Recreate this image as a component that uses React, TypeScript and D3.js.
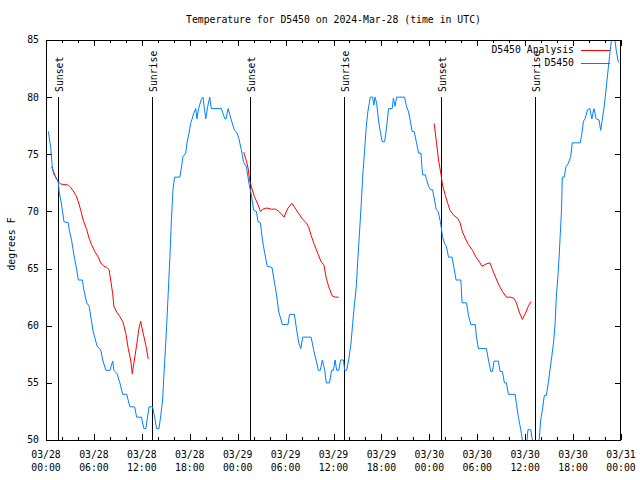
import React from "react";
import * as d3 from "d3";

// ---- data (hours since 2024-03-28 00:00 UTC, degrees F) ----
const obsHours = [0.3,0.4,0.6,0.8,1.0,1.25,1.4,1.55,1.65,1.85,2.05,2.25,2.8,2.9,3.2,3.4,3.6,3.85,4.05,4.55,4.75,5.1,5.4,5.7,5.9,6.1,6.4,6.85,7.1,7.5,8.0,8.35,8.5,8.9,9.25,9.6,10.1,10.5,11.1,11.35,11.95,12.25,12.5,12.9,13.35,13.6,13.85,14.15,14.4,14.6,14.75,14.9,15.1,15.3,15.5,15.7,15.9,16.1,16.75,16.95,17.15,17.5,17.65,17.9,18.1,18.3,18.5,18.75,18.9,19.1,19.45,19.65,19.8,20.0,20.25,20.5,20.7,21.95,22.4,22.55,22.8,23.0,23.2,23.6,23.9,24.15,24.45,24.75,25.1,25.4,25.7,26.0,26.35,26.55,26.85,27.1,27.4,27.7,28.3,28.55,28.85,29.15,29.6,30.3,30.5,31.1,31.35,31.65,31.9,32.15,33.2,33.5,33.85,34.1,34.35,34.6,34.9,35.1,35.5,35.75,36.0,36.2,36.4,36.65,36.9,37.25,37.4,37.65,37.9,38.2,38.4,38.6,38.85,39.05,39.25,39.45,39.65,39.9,40.1,40.3,40.6,40.9,41.05,41.2,41.4,41.65,41.9,42.1,42.4,42.6,42.9,43.35,43.5,43.7,43.9,44.9,45.1,45.4,45.6,45.85,46.1,46.4,46.65,46.95,47.15,47.5,47.65,47.9,48.15,48.4,48.6,48.85,49.1,49.35,49.45,49.65,49.9,50.15,50.4,50.85,51.1,51.35,51.95,52.1,52.65,52.9,53.2,53.75,53.9,54.15,55.15,55.4,55.7,55.9,56.1,56.65,56.85,57.15,57.4,57.65,57.9,58.75,58.9,59.15,59.45,59.65,59.85,60.1,60.35,60.7,60.9,61.1,61.6,61.75,61.95,62.15,62.4,62.65,62.9,63.1,63.35,63.55,63.75,63.9,64.1,64.25,64.4,64.55,64.65,64.9,65.1,65.4,65.7,65.9,66.9,67.1,67.3,67.5,67.8,68.1,68.35,68.6,68.9,69.25,69.45,69.65,69.9,70.15,70.4,70.7,70.9,71.15,71.4,71.65,71.8];
const obsTemps = [77.0,76.5,75.5,73.8,73.2,73.0,72.8,72.5,71.7,71.0,70.1,69.1,69.0,68.4,67.5,66.6,65.8,64.9,64.0,64.0,63.1,62.0,61.7,60.4,59.5,59.0,58.2,57.9,57.0,56.1,56.1,56.9,56.1,55.8,55.0,54.0,54.0,52.9,52.9,52.0,52.0,51.0,51.0,52.9,52.9,52.0,51.0,51.0,52.3,53.5,55.5,57.3,59.9,62.8,65.8,69.2,71.9,73.0,73.0,73.8,74.8,75.1,76.0,76.8,77.7,78.1,78.6,79.0,78.1,79.0,79.8,80.0,79.2,78.1,79.2,80.0,79.0,79.0,78.1,78.1,79.0,78.5,78.0,77.1,76.9,76.4,75.4,74.3,73.9,72.5,71.5,70.1,70.0,69.1,69.0,67.5,66.3,65.2,65.1,64.0,62.8,61.2,60.1,60.1,61.0,61.0,59.8,58.5,58.0,59.0,59.0,57.9,56.9,56.1,56.1,57.0,56.1,55.0,55.0,56.1,56.1,57.0,56.1,56.1,57.0,57.0,56.1,56.1,57.0,58.5,60.2,61.7,63.4,65.8,68.1,70.4,73.0,75.4,77.4,78.7,80.0,80.0,79.3,80.0,79.5,77.9,76.8,76.1,76.1,77.1,79.0,79.0,79.9,79.2,80.0,80.0,79.3,78.7,78.0,77.0,77.0,76.0,75.1,75.1,73.2,73.2,72.8,72.2,71.9,71.9,71.2,70.2,70.0,69.2,68.8,67.8,67.2,66.9,66.0,66.0,65.0,64.0,64.0,62.0,62.0,60.9,60.1,60.1,59.0,58.0,58.0,57.0,56.0,56.0,56.9,56.9,56.0,56.0,55.0,55.0,54.0,54.0,53.2,52.0,50.9,50.0,49.0,49.0,50.9,50.9,50.0,49.0,49.0,50.0,51.8,52.6,53.9,53.9,55.0,56.1,57.4,58.5,60.2,62.5,64.3,66.0,68.1,70.1,73.0,73.0,73.9,74.2,74.8,76.0,76.0,76.8,77.9,78.1,78.9,79.0,78.1,79.0,78.1,78.0,77.1,78.0,79.2,80.8,82.5,84.4,85.5,85.5,84.1,83.1,83.0];

const ana1Hours = [0.7,1.0,1.25,1.55,1.85,2.8,3.1,3.4,3.75,4.05,4.35,4.65,5.1,5.4,5.7,6.1,6.55,6.85,7.25,7.6,7.9,8.1,8.35,8.5,8.85,9.25,9.65,10.0,10.3,10.6,10.8,11.0,11.35,11.6,11.85,12.15,12.5,12.8];
const ana1Temps = [73.9,73.4,72.9,72.6,72.4,72.3,72.1,71.8,71.4,70.85,70.1,69.25,68.4,67.65,67.1,66.5,66.0,65.5,65.2,65.1,64.9,64.0,62.8,61.7,61.2,60.8,60.3,59.3,58.0,57.0,55.8,56.7,58.3,59.6,60.4,59.4,58.3,57.1];
const ana2Hours = [24.75,25.1,25.3,25.5,25.7,26.1,26.55,26.85,27.15,27.65,28.2,28.75,29.15,29.45,29.8,30.3,30.8,31.1,31.55,32.15,32.6,32.9,33.2,33.6,34.05,34.45,34.8,35.1,35.4,35.85,36.25,36.65];
const ana2Temps = [75.2,74.4,73.8,72.7,72.2,71.3,70.6,70.0,70.2,70.3,70.2,70.2,70.0,69.8,69.5,70.3,70.7,70.4,69.9,69.3,69.0,68.6,67.9,67.1,66.3,65.6,65.3,64.15,63.4,62.6,62.5,62.5];
const ana3Hours = [48.6,48.9,49.15,49.45,49.65,50.0,50.3,50.6,51.0,51.55,51.85,52.15,52.6,52.9,53.4,53.85,54.25,54.6,55.1,55.6,55.9,56.35,56.75,57.15,57.65,58.2,58.6,58.9,59.25,59.65,60.1,60.4,60.7];
const ana3Temps = [77.7,76.0,74.5,73.3,72.3,71.4,70.7,70.1,69.7,69.4,69.0,68.2,67.5,67.1,66.6,66.0,65.6,65.2,65.4,65.5,64.9,64.15,63.5,63.0,62.5,62.5,62.4,62.0,61.2,60.55,61.2,61.7,62.1];

const sunHours = [1.55, 13.3, 25.6, 37.3, 49.4, 61.2];
const sunLabels = ["Sunset", "Sunrise", "Sunset", "Sunrise", "Sunset", "Sunrise"];

const yTicks = [50, 55, 60, 65, 70, 75, 80, 85];
const titleText = "Temperature for D5450 on 2024-Mar-28 (time in UTC)";
const yLabel = "degrees F";
const seriesNames = ["D5450 Analysis", "D5450"];
const seriesColors = ["#ff0000", "#0080ff"];

const START = Date.UTC(2024, 2, 28, 0, 0);
const H = 3600 * 1000;

export default function App() {
  const W = 640, HT = 480;
  const left = 46, right = 621, top = 40, bottom = 440;
  const x = d3.scaleUtc().domain([new Date(START), new Date(START + 72 * H)]).range([left, right]);
  const y = d3.scaleLinear().domain([50, 85]).range([bottom, top]);
  const line = d3.line<[number, number]>().x(d => x(new Date(START + d[0] * H))).y(d => y(d[1]));

  const zip = (a: number[], b: number[]) => a.map((v, i) => [v, b[i]] as [number, number]);
  const obs = zip(obsHours, obsTemps);
  const anaSegs = [zip(ana1Hours, ana1Temps), zip(ana2Hours, ana2Temps), zip(ana3Hours, ana3Temps)];

  const majorX = x.ticks(d3.utcHour.every(6)!);
  const minorX = x.ticks(d3.utcHour.every(2)!);
  const fmtD = d3.utcFormat("%m/%d");
  const fmtT = d3.utcFormat("%H:%M");
  const font = "'DejaVu Sans Mono', 'Liberation Mono', monospace";
  const fs = 9.8;

  return (
    <svg width={W} height={HT} style={{ position: "absolute", left: 0, top: 0, background: "#fff" }}
      fontFamily={font} fontSize={fs}>
      <defs>
        <clipPath id="plotclip">
          <rect x={left} y={top} width={right - left} height={bottom - top} />
        </clipPath>
      </defs>
      <rect x={0} y={0} width={W} height={HT} fill="#fff" />
      <text x={(left + right) / 2} y={20} dy="0.35em" textAnchor="middle">{titleText}</text>

      {/* ticks */}
      <g stroke="#000" shapeRendering="crispEdges">
        {minorX.map((d, i) => {
          const xx = Math.round(x(d)) + 0.5;
          const major = majorX.some(m => +m === +d);
          const len = major ? 6 : 3;
          return (
            <g key={"mx" + i}>
              <line x1={xx} x2={xx} y1={bottom} y2={bottom - len} />
              <line x1={xx} x2={xx} y1={top} y2={top + len} />
            </g>
          );
        })}
        {yTicks.map((t, i) => {
          const yy = Math.round(y(t)) + 0.5;
          return (
            <g key={"yt" + i}>
              <line x1={left} x2={left + 6} y1={yy} y2={yy} />
              <line x1={right} x2={right - 6} y1={yy} y2={yy} />
            </g>
          );
        })}
      </g>

      {/* tick labels */}
      {yTicks.map((t, i) => (
        <text key={"yl" + i} x={39} y={y(t)} dy="0.35em" textAnchor="end">{t}</text>
      ))}
      {majorX.map((d, i) => (
        <g key={"xl" + i}>
          <text x={x(d)} y={455} dy="0.35em" textAnchor="middle">{fmtD(d)}</text>
          <text x={x(d)} y={467.5} dy="0.35em" textAnchor="middle">{fmtT(d)}</text>
        </g>
      ))}
      <text transform={`translate(12,${(top + bottom) / 2 + 4}) rotate(-90)`} dy="0.35em" textAnchor="middle">{yLabel}</text>

      {/* sun lines */}
      {sunHours.map((h, i) => {
        const xx = Math.round(x(new Date(START + h * H))) + 0.5;
        return (
          <g key={"sun" + i}>
            <line x1={xx} x2={xx} y1={97} y2={bottom} stroke="#000" shapeRendering="crispEdges" />
            <text transform={`translate(${xx + 4.5},92) rotate(-90)`} textAnchor="start">{sunLabels[i]}</text>
          </g>
        );
      })}

      {/* data */}
      <g clipPath="url(#plotclip)" fill="none" strokeWidth={1}>
        {anaSegs.map((s, i) => (
          <path key={"a" + i} d={line(s)!} stroke={seriesColors[0]} />
        ))}
        <path d={line(obs)!} stroke={seriesColors[1]} />
      </g>

      {/* legend */}
      {seriesNames.map((n, i) => (
        <g key={"lg" + i}>
          <text x={574} y={50 + i * 13} dy="0.35em" textAnchor="end">{n}</text>
          <line x1={581} x2={610} y1={50.5 + i * 13} y2={50.5 + i * 13} stroke={seriesColors[i]} shapeRendering="crispEdges" />
        </g>
      ))}

      {/* frame */}
      <rect x={left + 0.5} y={top + 0.5} width={right - left - 1} height={bottom - top} fill="none" stroke="#000" shapeRendering="crispEdges" />
    </svg>
  );
}
